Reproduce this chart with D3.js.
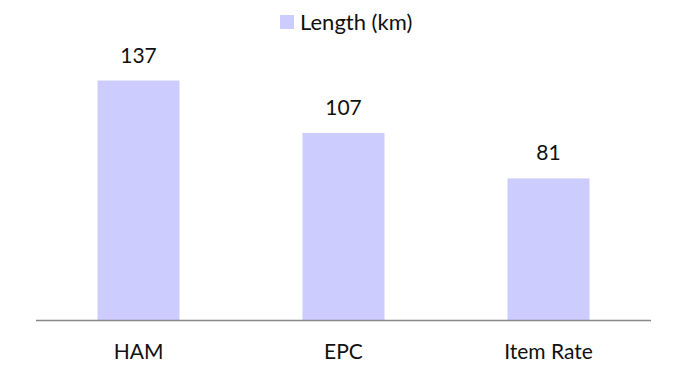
<!DOCTYPE html>
<html>
<head>
<meta charset="utf-8">
<script src="https://cdn.jsdelivr.net/npm/d3@7"></script>
<style>
  html, body { margin: 0; padding: 0; background: #fff; }
  svg { display: block; }
</style>
</head>
<body>
<svg id="chart" width="681" height="365"></svg>
<script>
// Road length by contract mode
const categories = ["HAM", "EPC", "Item Rate"];
const lengths = [137, 107, 81];
const seriesName = "Length (km)";

const svg = d3.select("#chart");
const barColor = "#ccccff";
const font = "Lato, 'Open Sans', sans-serif";

const x = d3.scaleBand()
  .domain(categories)
  .range([36, 651])
  .paddingInner(0.6)
  .paddingOuter(0.3);

const y = d3.scaleLinear()
  .domain([0, 160])
  .range([320, 40.3]);

const data = categories.map((c, i) => ({ cat: c, val: lengths[i] }));

// bars
svg.append("g")
  .selectAll("rect")
  .data(data)
  .join("rect")
  .attr("x", d => x(d.cat))
  .attr("y", d => y(d.val))
  .attr("width", x.bandwidth())
  .attr("height", d => y(0) - y(d.val))
  .attr("fill", barColor);

// value labels
svg.append("g")
  .selectAll("text")
  .data(data)
  .join("text")
  .attr("x", d => x(d.cat) + x.bandwidth() / 2)
  .attr("y", d => y(d.val) - 18)
  .attr("text-anchor", "middle")
  .attr("font-family", font)
  .attr("font-size", 21)
  .attr("fill", "#111")
  .text(d => d.val);

// category axis
const xAxis = d3.axisBottom(x).tickSize(0);
const gx = svg.append("g")
  .attr("transform", `translate(0,${y(0)})`)
  .call(xAxis);
gx.select(".domain")
  .attr("d", `M36,0.5H651`)
  .attr("stroke", "#888")
  .attr("stroke-width", 1.5);
gx.selectAll("text")
  .attr("y", 39)
  .attr("dy", 0)
  .attr("font-family", font)
  .attr("font-size", 21)
  .attr("fill", "#111");

// legend
const legend = svg.append("g").attr("transform", "translate(280,15)");
legend.append("rect")
  .attr("width", 14)
  .attr("height", 14)
  .attr("fill", barColor);
legend.append("text")
  .attr("x", 20)
  .attr("y", 15)
  .attr("font-family", font)
  .attr("font-size", 22)
  .attr("fill", "#111")
  .text(seriesName);
</script>
</body>
</html>
